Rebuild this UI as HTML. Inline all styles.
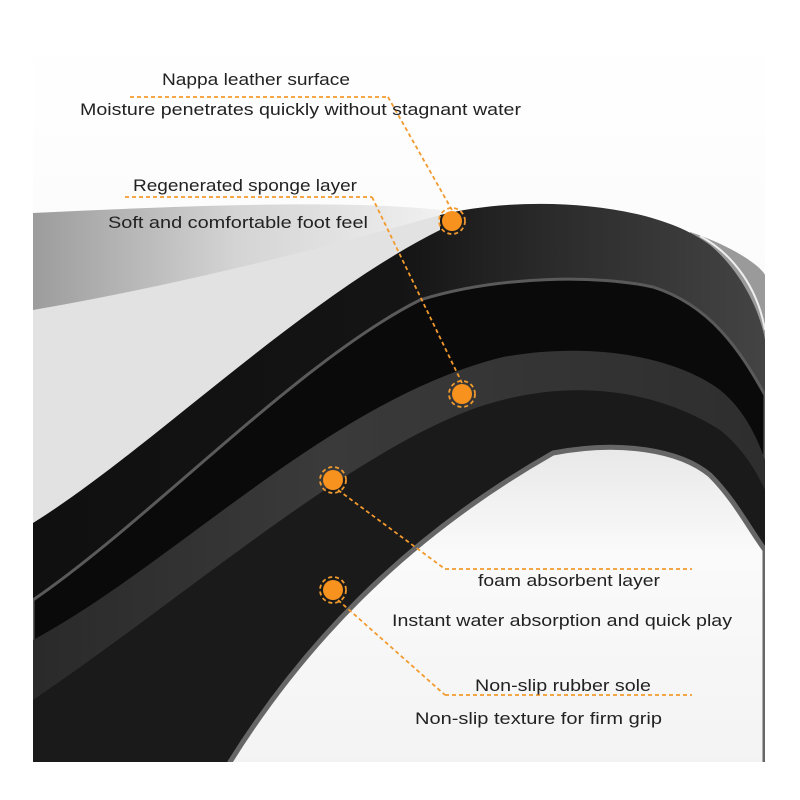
<!DOCTYPE html>
<html><head><meta charset="utf-8"><style>html,body{margin:0;padding:0;background:#fff}svg{display:block}</style></head>
<body>
<svg width="800" height="800" viewBox="0 0 800 800" xmlns="http://www.w3.org/2000/svg" font-family="Liberation Sans, sans-serif">
<defs>
<linearGradient id="bg" x1="0" y1="0" x2="0" y2="1"><stop offset="0" stop-color="#ffffff"/><stop offset="0.6" stop-color="#f8f8f8"/><stop offset="1" stop-color="#f0f0f0"/></linearGradient>
<linearGradient id="gw" x1="0" y1="0" x2="1" y2="0"><stop offset="0" stop-color="#9c9c9c"/><stop offset="0.5" stop-color="#d4d4d4"/><stop offset="1" stop-color="#f0f0f0"/></linearGradient>
<linearGradient id="cap" x1="0" y1="0" x2="1" y2="0"><stop offset="0" stop-color="#101010"/><stop offset="0.5" stop-color="#141414"/><stop offset="0.7" stop-color="#2a2a2a"/><stop offset="1" stop-color="#444"/></linearGradient>
<linearGradient id="foam" x1="0" y1="0" x2="1" y2="0"><stop offset="0" stop-color="#2a2a2a"/><stop offset="0.4" stop-color="#3a3a3a"/><stop offset="1" stop-color="#2e2e2e"/></linearGradient>
<linearGradient id="wb" x1="0" y1="0" x2="0" y2="1"><stop offset="0" stop-color="#e8e8e8"/><stop offset="0.3" stop-color="#fafafa"/><stop offset="1" stop-color="#f2f2f2"/></linearGradient>
<clipPath id="frame"><rect x="33" y="30" width="732" height="732"/></clipPath>
</defs>
<rect width="800" height="800" fill="#fff"/>
<g clip-path="url(#frame)">
<rect x="33" y="30" width="732" height="732" fill="url(#bg)"/>
<path d="M33,213 C200,205 350,200 440,210 L440,800 L33,800 Z" fill="url(#gw)"/>
<path d="M33,310 C150,290 300,255 440,215 L440,800 L33,800 Z" fill="#e2e2e2"/>
<path d="M690,232 C730,245 760,265 765,275 L765,800 L690,800 Z" fill="#9a9a9a"/>
<path d="M700,236 C735,255 758,290 765,330" stroke="#eee" stroke-width="2" fill="none"/>
<path d="M33,523 C150,450 300,300 440,230 L440,215 C520,195 650,200 710,245 C740,270 760,310 765,340 L765,800 L33,800 Z" fill="url(#cap)"/>
<path d="M33,600 C150,520 300,360 420,300 C500,275 600,275 653,287 C710,305 740,350 765,395 L765,800 L33,800 Z" fill="#0a0a0a" stroke="#5a5a5a" stroke-width="3"/>
<path d="M33,640 C180,560 330,400 503,357 C600,340 680,360 720,390 C745,410 758,440 765,460 L765,800 L33,800 Z" fill="url(#foam)"/>
<path d="M33,700 C180,600 330,470 453,417 C550,375 650,385 720,430 C745,450 758,475 765,490 L765,800 L33,800 Z" fill="#1a1a1a"/>
<path d="M230,762 C300,650 400,540 553,453 C620,440 680,450 710,475 C735,500 750,530 765,550 L765,800 L230,800 Z" fill="url(#wb)" stroke="#666" stroke-width="5"/>
</g>
<!-- callouts -->
<g fill="none" stroke="#f29a2e" stroke-width="1.8" stroke-dasharray="4,3">
<line x1="130" y1="97" x2="388" y2="97"/><line x1="388" y1="97" x2="452" y2="210"/>
<line x1="125" y1="197" x2="372" y2="197"/><line x1="372" y1="197" x2="462" y2="383"/>
<line x1="338" y1="490" x2="445" y2="569"/><line x1="445" y1="569" x2="692" y2="569"/>
<line x1="338" y1="600" x2="445" y2="695"/><line x1="445" y1="695" x2="692" y2="695"/>
<circle cx="452" cy="221" r="13"/><circle cx="462" cy="394" r="13"/><circle cx="333" cy="480" r="13"/><circle cx="333" cy="590" r="13"/>
</g>
<g fill="#f7921e"><circle cx="452" cy="221" r="10"/><circle cx="462" cy="394" r="10"/><circle cx="333" cy="480" r="10"/><circle cx="333" cy="590" r="10"/></g>
<g font-size="17" fill="#222">
<text x="162" y="85" textLength="188" lengthAdjust="spacingAndGlyphs">Nappa leather surface</text>
<text x="80" y="115" textLength="441" lengthAdjust="spacingAndGlyphs">Moisture penetrates quickly without stagnant water</text>
<text x="133" y="191" textLength="224" lengthAdjust="spacingAndGlyphs">Regenerated sponge layer</text>
<text x="108" y="228" textLength="260" lengthAdjust="spacingAndGlyphs">Soft and comfortable foot feel</text>
<text x="478" y="586" textLength="182" lengthAdjust="spacingAndGlyphs">foam absorbent layer</text>
<text x="392" y="626" textLength="340" lengthAdjust="spacingAndGlyphs">Instant water absorption and quick play</text>
<text x="475" y="691" textLength="176" lengthAdjust="spacingAndGlyphs">Non-slip rubber sole</text>
<text x="415" y="724" textLength="247" lengthAdjust="spacingAndGlyphs">Non-slip texture for firm grip</text>
</g>
</svg>
</body></html>
